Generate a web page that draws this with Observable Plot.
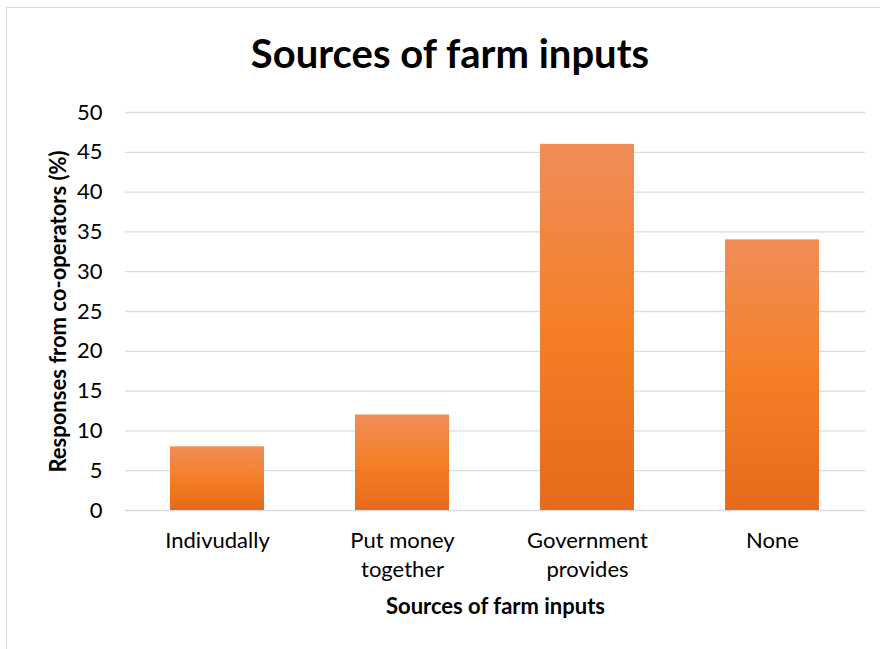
<!DOCTYPE html>
<html>
<head>
<meta charset="utf-8">
<script src="https://cdn.jsdelivr.net/npm/d3@7"></script>
<script src="https://cdn.jsdelivr.net/npm/@observablehq/plot@0.6"></script>
<style>
  html, body { margin: 0; padding: 0; background: #fff; }
  #frame {
    position: relative; width: 880px; height: 649px; overflow: hidden;
    font-family: Lato, "Open Sans", sans-serif;
  }
  #border {
    position: absolute; left: 6px; top: 7px; width: 880px; height: 660px;
    border: 1px solid #d9d9d9; box-sizing: border-box;
  }
  #title {
    position: absolute; left: 0; top: 30px; width: 900px; text-align: center;
    font-size: 40px; font-weight: bold; color: #000; line-height: 46px;
  }
  #chart { position: absolute; left: 0; top: 0; }
</style>
</head>
<body>
<div id="frame">
  <div id="border"></div>
  <div id="title">Sources of farm inputs</div>
  <div id="chart"></div>
</div>
<script>
// Survey responses: where co-operators get their farm inputs
const categories = ["Indivudally", "Put money\ntogether", "Government\nprovides", "None"];
const responses = [8, 12, 46, 34];
const yTicks = [0, 5, 10, 15, 20, 25, 30, 35, 40, 45, 50];

const data = categories.map((c, i) => ({source: c, value: responses[i]}));

const chart = Plot.plot({
  width: 880,
  height: 649,
  marginTop: 112,
  marginBottom: 139,
  marginLeft: 125,
  marginRight: 15,
  style: {fontFamily: "Lato, 'Open Sans', sans-serif", background: "transparent", color: "#000"},
  x: {domain: categories, paddingInner: 0.49, paddingOuter: 0.245, label: null},
  y: {domain: [0, 50], label: null},
  marks: [
    Plot.gridY(yTicks, {stroke: "#d9dce0", strokeOpacity: 1, strokeWidth: 1.3}),
    Plot.barY(data, {x: "source", y: "value", fill: "url(#barFill)"}),
    Plot.axisY(yTicks, {tickSize: 0, tickPadding: 23, fontSize: 22, label: null}),
    Plot.axisX({tickSize: 0, tickPadding: 17, fontSize: 22, lineHeight: 1.32, label: null}),
    Plot.text(["Responses from co-operators (%)"], {
      frameAnchor: "left", dx: -67, rotate: -90, textAnchor: "middle", lineAnchor: "middle",
      fontSize: 22, fontWeight: "bold"
    }),
    Plot.text(["Sources of farm inputs"], {
      frameAnchor: "bottom", lineAnchor: "middle", dy: 96, fontSize: 22, fontWeight: "bold"
    })
  ]
});

// vertical orange gradient used by every bar
const defs = d3.select(chart).insert("defs", ":first-child");
const grad = defs.append("linearGradient")
  .attr("id", "barFill").attr("x1", 0).attr("y1", 0).attr("x2", 0).attr("y2", 1);
grad.append("stop").attr("offset", "0%").attr("stop-color", "#f08d58");
grad.append("stop").attr("offset", "50%").attr("stop-color", "#f47f28");
grad.append("stop").attr("offset", "100%").attr("stop-color", "#e56b1a");

document.getElementById("chart").append(chart);
</script>
</body>
</html>
